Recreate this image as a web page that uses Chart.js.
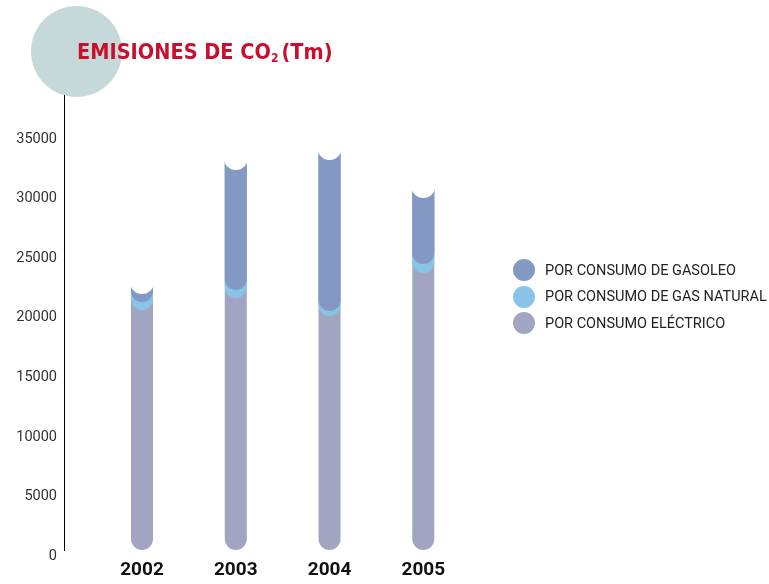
<!DOCTYPE html>
<html>
<head>
<meta charset="utf-8">
<script src="https://cdn.jsdelivr.net/npm/chart.js@4"></script>
<style>
  body { margin: 0; background: #fff; }
  #wrap { position: relative; width: 769px; height: 584px; overflow: hidden; }
  #blob { position: absolute; left: 31px; top: 6px; width: 91px; height: 91px; border-radius: 50%; background: #c6d9da; }
  #titulo { position: absolute; left: 77px; top: 39px; font-family: 'DejaVu Sans Condensed', sans-serif; font-weight: bold; font-size: 21.5px; color: #c8102e; white-space: nowrap; }
  #titulo sub { font-size: 12px; vertical-align: -3px; margin-right: 3px; }
  canvas { position: absolute; left: 0; top: 0; }
  #leyenda { position: absolute; left: 513px; top: 257px; font-family: Roboto, sans-serif; font-size: 14.5px; color: #222; }
  .item { height: 26.5px; display: flex; align-items: center; }
  .dot { width: 22px; height: 22px; border-radius: 50%; margin-right: 10px; }
</style>
</head>
<body>
<div id="wrap">
  <div id="blob"></div>
  <canvas id="myChart" width="769" height="584"></canvas>
  <div id="titulo">EMISIONES DE CO<sub>2</sub>(Tm)</div>
  <div id="leyenda"></div>
</div>
<script>
var anos = [2002, 2003, 2004, 2005];
var electrico = [20150, 21160, 19650, 23260];
var gasNatural = [670, 670, 420, 750];
var gasoleo = [1680, 11080, 13680, 6550];
var marcasY = [0, 5000, 10000, 15000, 20000, 25000, 30000, 35000];
var nombres = ['POR CONSUMO ELÉCTRICO', 'POR CONSUMO DE GAS NATURAL', 'POR CONSUMO DE GASOLEO'];
var colores = ['#a2a5c2', '#89c4e8', '#8399c4'];

// leyenda en html (de arriba a abajo: gasoleo, gas natural, electrico)
var ley = document.getElementById('leyenda');
for (var k = nombres.length - 1; k >= 0; k--) {
  ley.innerHTML += '<div class="item"><div class="dot" style="background:' + colores[k] + '"></div>' + nombres[k] + '</div>';
}

function puntos(valores) {
  return anos.map(function(a, i) { return { x: a, y: valores[i] }; });
}

// dibuja cada tramo como "pildora" con fondo redondeado y la muesca blanca arriba
var pildoras = {
  id: 'pildoras',
  beforeDatasetsDraw: function(chart) {
    var ctx = chart.ctx;
    var metas = chart.data.datasets.map(function(d, i) { return chart.getDatasetMeta(i); });
    var arriba = metas[metas.length - 1];
    ctx.save();
    anos.forEach(function(a, i) {
      var topY = arriba.data[i].y;
      metas.forEach(function(meta, d) {
        var el = meta.data[i];
        var r = el.width / 2;
        ctx.beginPath();
        ctx.moveTo(el.x - r, topY);
        ctx.lineTo(el.x - r, el.base - r);
        ctx.arc(el.x, el.base - r, r, Math.PI, 0, true);
        ctx.lineTo(el.x + r, topY);
        ctx.closePath();
        ctx.fillStyle = chart.data.datasets[d].backgroundColor;
        ctx.fill();
      });
      ctx.beginPath();
      ctx.arc(arriba.data[i].x, topY, arriba.data[i].width / 2 + 1, 0, Math.PI * 2);
      ctx.fillStyle = '#fff';
      ctx.fill();
    });
    ctx.restore();
    return false;
  }
};

var ctx = document.getElementById('myChart').getContext('2d');
var chart = new Chart(ctx, {
  type: 'bar',
  data: {
    datasets: [
      { label: nombres[0], data: puntos(electrico), backgroundColor: colores[0], barThickness: 22 },
      { label: nombres[1], data: puntos(gasNatural), backgroundColor: colores[1], barThickness: 22 },
      { label: nombres[2], data: puntos(gasoleo), backgroundColor: colores[2], barThickness: 22 }
    ]
  },
  options: {
    responsive: false,
    animation: false,
    layout: { padding: { top: 95, right: 269, left: 0, bottom: 0 } },
    plugins: { legend: { display: false }, tooltip: { enabled: false } },
    scales: {
      x: {
        type: 'linear',
        offset: false,
        stacked: true,
        min: 2001.168,
        max: 2005.818,
        grid: { display: false, drawTicks: false },
        border: { display: false },
        afterBuildTicks: function(s) { s.ticks = anos.map(function(v) { return { value: v }; }); },
        afterFit: function(s) { s.height = 34; },
        ticks: {
          autoSkip: false,
          maxRotation: 0,
          padding: 9,
          color: '#111',
          font: { family: 'Roboto, sans-serif', size: 19, weight: 'bold' },
          callback: function(v) { return String(v); }
        }
      },
      y: {
        stacked: true,
        min: 0,
        max: 38200,
        grid: { display: false, drawTicks: false },
        border: { display: true, color: '#000', width: 1 },
        afterBuildTicks: function(s) { s.ticks = marcasY.map(function(v) { return { value: v }; }); },
        afterFit: function(s) { s.width = 64; },
        ticks: {
          labelOffset: 6,
          padding: 7,
          color: '#333',
          font: { family: 'Roboto, sans-serif', size: 14.5 },
          callback: function(v) { return String(v); }
        }
      }
    }
  },
  plugins: [pildoras]
});
</script>
</body>
</html>
